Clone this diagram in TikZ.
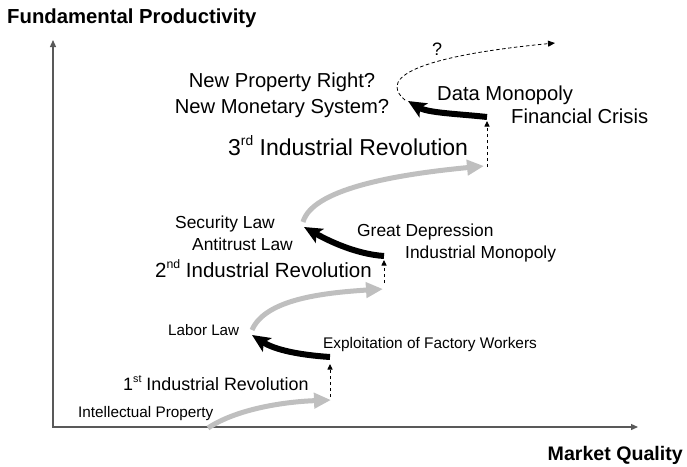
\documentclass[tikz,border=0pt]{standalone}
\usepackage{fontspec}
\setmainfont{Liberation Sans}
\usetikzlibrary{arrows.meta}
\newcommand{\fsz}[1]{\fontsize{#1}{#1}\selectfont}
\newcommand{\supx}[2]{\raisebox{0.4em}{\fsz{#1}#2}}
\begin{document}
\begin{tikzpicture}[x=1pt,y=-1pt,
  lbl/.style={inner sep=0pt, anchor=base west},
  axisline/.style={draw=black!65, line width=1.3pt},
  growthcurve/.style={draw=black!25, line width=5pt, -{Triangle[length=17pt,width=15pt]}},
  crisis/.style={draw=black, line width=6pt, -{Stealth[length=18pt,width=16pt,inset=4pt]}},
  jumpline/.style={draw=black, line width=0.9pt, dash pattern=on 3.5pt off 2.5pt, -{Triangle[length=5.5pt,width=5pt]}},
  futureline/.style={draw=black, line width=0.8pt, dash pattern=on 3.5pt off 2.5pt, -{Triangle[length=7pt,width=6pt]}},
]
\useasboundingbox (0,0) rectangle (687,466);
% axes
\coordinate (o) at (53,427);
\coordinate (ytop) at (53,40);
\coordinate (xend) at (638,427);
\draw[axisline, {Triangle[length=7pt,width=6pt]}-{Triangle[length=7pt,width=6pt]}] (ytop) -- (o) -- (xend);
\node[lbl, font=\fsz{20.3}\bfseries] (ylab) at (7,23.5) {Fundamental Productivity};
\node[inner sep=0pt, anchor=base east, font=\fsz{19.6}\bfseries] (xlab) at (683,460) {Market Quality};

% key points
\coordinate (g1s) at (208,428);
\coordinate (g1e) at (331,400);
\coordinate (d1s) at (330,397);
\coordinate (d1e) at (330,364);
\coordinate (b1s) at (330,357);
\coordinate (b1e) at (252,335);
\coordinate (g2s) at (252,330);
\coordinate (g2e) at (383,289);
\coordinate (d2s) at (384,283);
\coordinate (d2e) at (384,260);
\coordinate (b2s) at (384,256);
\coordinate (b2e) at (304,227);
\coordinate (g3s) at (303,222);
\coordinate (g3e) at (484,166);
\coordinate (d3s) at (487,167);
\coordinate (d3e) at (487,121);
\coordinate (b3s) at (487,117);
\coordinate (b3e) at (408,101);
\coordinate (fs) at (405,100);
\coordinate (fe) at (555,43);

% growth curves
\draw[growthcurve] (g1s) .. controls (235,410) and (280,402) .. (g1e);
\draw[growthcurve] (g2s) .. controls (265,300) and (320,293) .. (g2e);
\draw[growthcurve] (g3s) .. controls (312,190) and (390,175) .. (g3e);
% jumps
\draw[jumpline] (d1s) -- (d1e);
\draw[jumpline] (d2s) -- (d2e);
\draw[jumpline] (d3s) -- (d3e);
% crises
\draw[crisis] (b1s) .. controls (300,355) and (275,350) .. (b1e);
\draw[crisis] (b2s) .. controls (355,254) and (327,240) .. (b2e);
\draw[crisis] (b3s) .. controls (460,114) and (428,113) .. (b3e);
% future
\draw[futureline] (fs) .. controls (375,75) and (430,55) .. (fe);

% labels
\node[lbl, font=\fsz{18}] (q) at (432,55) {?};
\node[inner sep=0pt, anchor=base, font=\fsz{20.2}] (npr) at (282,87.5) {New Property Right?};
\node[inner sep=0pt, anchor=base, font=\fsz{20.2}] (nms) at (282,113.5) {New Monetary System?};
\node[lbl, font=\fsz{20.2}] (dm) at (437,100.5) {Data Monopoly};
\node[lbl, font=\fsz{20.2}] (fc) at (511,123) {Financial Crisis};
\node[lbl, font=\fsz{23}] (ir3) at (228,155) {3\supx{13.8}{rd} Industrial Revolution};
\node[lbl, font=\fsz{17.4}] (sl) at (175,228) {Security Law};
\node[lbl, font=\fsz{17.4}] (al) at (192,250) {Antitrust Law};
\node[lbl, font=\fsz{20.5}] (ir2) at (155,277) {2\supx{12.3}{nd} Industrial Revolution};
\node[lbl, font=\fsz{17.4}] (gd) at (357,236) {Great Depression};
\node[lbl, font=\fsz{17.4}] (im) at (405,258) {Industrial Monopoly};
\node[lbl, font=\fsz{15.2}] (ll) at (168,335) {Labor Law};
\node[lbl, font=\fsz{15.4}] (ex) at (323,348) {Exploitation of Factory Workers};
\node[lbl, font=\fsz{17.9}] (ir1) at (123,390) {1\supx{10.7}{st} Industrial Revolution};
\node[lbl, font=\fsz{15.3}] (ip) at (78,417) {Intellectual Property};
\end{tikzpicture}
\end{document}
